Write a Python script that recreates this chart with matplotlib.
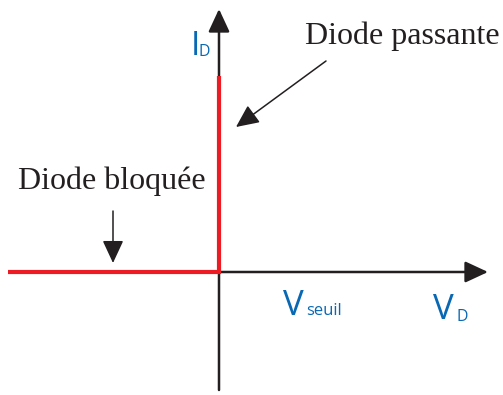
import matplotlib
matplotlib.use("Agg")
import matplotlib.pyplot as plt

# ---- data (diagram units: 1 unit ~ 1 px, origin at the axes crossing) ----
curve_v = [-211, 0, 0]          # diode characteristic (blocked, then conducting)
curve_i = [0, 0, 196]
xaxis_v = [0, 269]               # V_D axis extent
yaxis_i = [-118, 263]            # I_D axis extent
label_passante = "Diode passante"
label_bloquee = "Diode bloquée"
arrow_passante = [(107, 211), (17, 145)]    # start, tip
arrow_bloquee = [(-106, 61), (-106, 9)]

RED = "#ED1C24"
BLACK = "#231F20"
BLUE = "#0868B4"

W, H = 503, 395
fig = plt.figure(figsize=(W / 100, H / 100), dpi=100)
ax = fig.add_axes([0, 0, 1, 1])
ax.set_xlim(-219, W - 219)
ax.set_ylim(-(H - 272), 272)
ax.axis("off")

def arrow(start, tip, lw, hl, hw):
    ax.annotate("", xy=tip, xytext=start,
                arrowprops=dict(arrowstyle=f"-|>,head_length={hl},head_width={hw}",
                                lw=lw, color=BLACK, shrinkA=0, shrinkB=0,
                                mutation_scale=1))

# axes with arrowheads
arrow((xaxis_v[0], 0), (xaxis_v[1], 0), 1.8, 14.0, 6.5)
arrow((0, yaxis_i[0]), (0, yaxis_i[1]), 1.8, 14.0, 6.5)

# characteristic
ax.plot(curve_v, curve_i, color=RED, lw=3.0, solid_joinstyle="miter",
        solid_capstyle="butt", zorder=3)

# annotation arrows
arrow(*arrow_passante, 1.1, 14.0, 6.5)
arrow(*arrow_bloquee, 1.1, 14.0, 6.5)

serif = "Liberation Serif"
sans = "Open Sans"
ax.text(86, 228, label_passante, family=serif, fontsize=23, color=BLACK,
        ha="left", va="baseline")
ax.text(-201, 83, label_bloquee, family=serif, fontsize=23, color=BLACK,
        ha="left", va="baseline")

# axis labels
ax.text(-28, 217, "I", family=sans, fontsize=24, color=BLUE, ha="left", va="baseline")
ax.text(-20, 216, "D", family=sans, fontsize=11.5, color=BLUE, ha="left", va="baseline")
ax.text(214, -47, "V", family=sans, fontsize=25, color=BLUE, ha="left", va="baseline")
ax.text(238, -49, "D", family=sans, fontsize=11.5, color=BLUE, ha="left", va="baseline")
ax.text(64, -43, "V", family=sans, fontsize=25, color=BLUE, ha="left", va="baseline")
ax.text(87, -43, "seuil", family=sans, fontsize=12, color=BLUE, ha="left", va="baseline")

fig.savefig("out.png", dpi=100)
